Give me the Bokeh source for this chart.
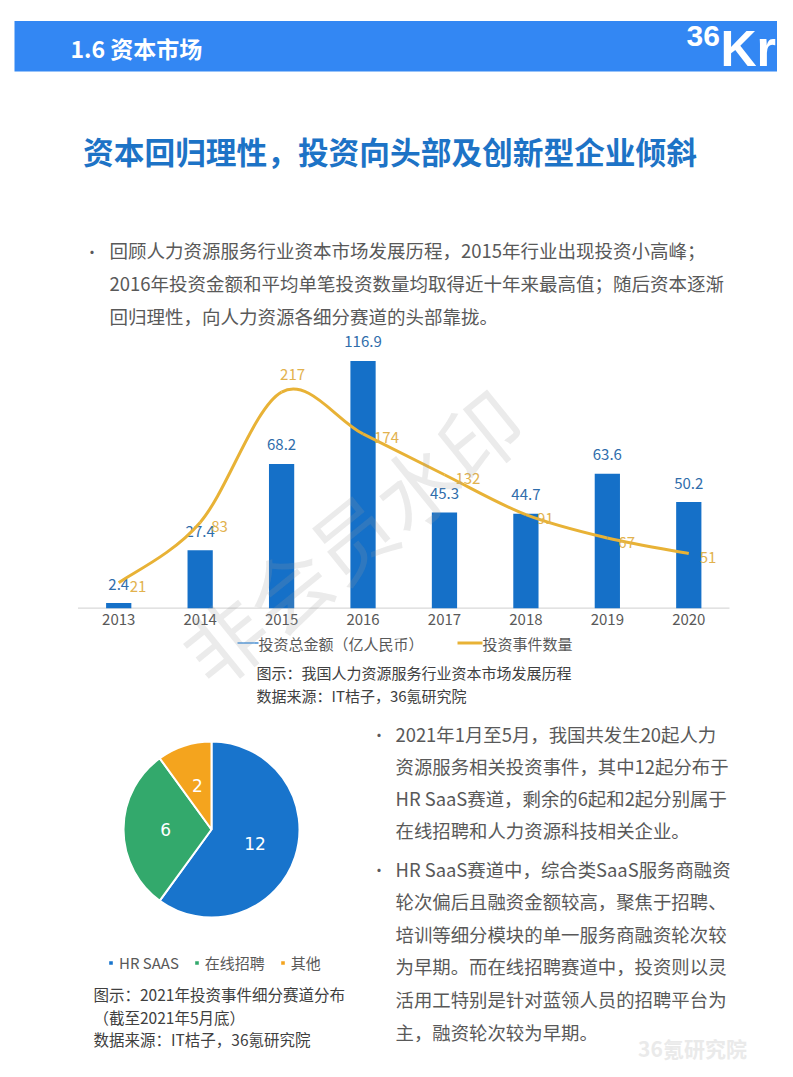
import numpy as np
from bokeh.plotting import figure
from bokeh.models import Range1d, Legend, LegendItem, ColumnDataSource
from bokeh.core.properties import value
from bokeh.embed import file_html
from bokeh.resources import INLINE

# ---------------- data ----------------
years = ["2013", "2014", "2015", "2016", "2017", "2018", "2019", "2020"]
amount = [2.4, 27.4, 68.2, 116.9, 45.3, 44.7, 63.6, 50.2]      # 投资总金额（亿人民币）
events = [21, 83, 217, 174, 132, 91, 67, 51]                    # 投资事件数量
series_names = ["投资总金额（亿人民币）", "投资事件数量"]

pie_labels = ["HR SAAS", "在线招聘", "其他"]
pie_values = [12, 6, 2]

header = "1.6 资本市场"
title = "资本回归理性，投资向头部及创新型企业倾斜"
intro_lines = [
    "回顾人力资源服务行业资本市场发展历程，2015年行业出现投资小高峰；",
    "2016年投资金额和平均单笔投资数量均取得近十年来最高值；随后资本逐渐",
    "回归理性，向人力资源各细分赛道的头部靠拢。",
]
bar_caption = ["图示：我国人力资源服务行业资本市场发展历程", "数据来源：IT桔子，36氪研究院"]
pie_caption = ["图示：2021年投资事件细分赛道分布", "（截至2021年5月底）", "数据来源：IT桔子，36氪研究院"]
para1 = [
    "2021年1月至5月，我国共发生20起人力",
    "资源服务相关投资事件，其中12起分布于",
    "HR SaaS赛道，剩余的6起和2起分别属于",
    "在线招聘和人力资源科技相关企业。",
]
para2 = [
    "HR SaaS赛道中，综合类SaaS服务商融资",
    "轮次偏后且融资金额较高，聚焦于招聘、",
    "培训等细分模块的单一服务商融资轮次较",
    "为早期。而在线招聘赛道中，投资则以灵",
    "活用工特别是针对蓝领人员的招聘平台为",
    "主，融资轮次较为早期。",
]
watermark = "非会员水印"

# ---------------- styles ----------------
CJK = value("Noto Sans CJK SC")
BAND = "#3387F3"
TITLE_BLUE = "#1D73C6"
BAR_BLUE = "#1570C8"
GOLD = "#E8B236"
GOLD_TXT = "#E2B24E"
BAR_TXT = "#2F6DAB"
GRAY = "#595959"
DARK = "#404040"
PIE_COLORS = ["#1874CC", "#33A96C", "#F4A41E"]

W, H = 777, 1061
X0, Y0 = 0, 0                     # page coordinate of the canvas' top-left corner
PB = Y0 + H                       # page y of the canvas bottom

# one page-sized canvas; main ranges are page pixels (y downwards)
p = figure(width=W, height=H, x_range=Range1d(X0, X0 + W), y_range=Range1d(PB, Y0),
           toolbar_location=None, tools="", output_backend="svg", min_border=0,
           x_axis_location=None, y_axis_location=None, outline_line_color=None)
p.grid.visible = False


def txt(x, y, s, size, color, bold=False, align="left", font=CJK, baseline="middle"):
    p.text(x=[x], y=[y], text=[s], text_font=font, text_font_size=f"{size}px",
           text_color=color, text_align=align, text_baseline=baseline,
           text_font_style="bold" if bold else "normal")


# ---------------- header / title / intro ----------------
p.quad(left=14, right=777, top=20.5, bottom=71, fill_color=BAND, line_color=None)
txt(70, 47, header, 23, "white", bold=True)
txt(686, 35, "36", 30, "white", bold=True, font=value("Liberation Sans"))
txt(720, 48, "Kr", 50, "white", bold=True, font=value("Liberation Sans"))
txt(389.5, 150, title, 30.7, TITLE_BLUE, bold=True, align="center")
txt(84, 251, "•", 15, GRAY)
for i, line in enumerate(intro_lines):
    txt(109, 249 + i * 33, line, 18.5, GRAY)

# ---------------- bar + line chart ----------------
# bar-chart scales: category band i spans [i, i+1], bands laid out on page x 77.5..729,
# amounts zero on page y 607.7 (2.115 px/unit), events zero on page y 602.7 (0.973 px/unit)
band_px = (729 - 77.5) / len(years)
bx0 = -(77.5 - X0) / band_px
amt_px, amt_zero = 2.115, 607.7
ev_px, ev_zero = 0.973, 602.7
p.extra_x_ranges = {"bx": Range1d(bx0, bx0 + W / band_px),
                    "px": Range1d(X0 - 211, X0 - 211 + W)}
p.extra_y_ranges = {"amt": Range1d(-(PB - amt_zero) / amt_px, -(PB - amt_zero) / amt_px + H / amt_px),
                    "ev": Range1d(-(PB - ev_zero) / ev_px, -(PB - ev_zero) / ev_px + H / ev_px),
                    "py": Range1d(-(PB - 829), -(PB - 829) + H)}

n = len(years)
xi = np.arange(n) + 0.5
# axis line + category labels
p.segment(x0=[0], y0=[0], x1=[n], y1=[0], x_range_name="bx", y_range_name="amt",
          line_color="#D9D9D9", line_width=1.2)
p.text(x=xi, y=np.zeros(n), text=years, x_range_name="bx", y_range_name="amt",
       text_font=CJK, text_font_size="15px", text_color=GRAY, text_align="center",
       text_baseline="middle", y_offset=11)

r_bar = p.vbar(x=xi, top=amount, width=0.31, x_range_name="bx", y_range_name="amt",
               fill_color=BAR_BLUE, line_color=None)
p.text(x=xi, y=amount, text=[f"{v:.1f}" for v in amount], x_range_name="bx",
       y_range_name="amt", text_font=CJK, text_font_size="15px", text_color=BAR_TXT,
       text_align="center", text_baseline="middle", y_offset=-19)

# smoothed (Excel-like) line: cubic Bezier segments through the data points
ev = np.array(events, dtype=float)
X = np.concatenate([[xi[0]], xi, [xi[-1]]])
Y = np.concatenate([[ev[0]], ev, [ev[-1]]])
k = np.arange(n - 1)
cx0 = X[k + 1] + (X[k + 2] - X[k]) / 6
cy0 = Y[k + 1] + (Y[k + 2] - Y[k]) / 6
cx1 = X[k + 2] - (X[k + 3] - X[k + 1]) / 6
cy1 = Y[k + 2] - (Y[k + 3] - Y[k + 1]) / 6
r_line = p.bezier(x0=xi[:-1], y0=ev[:-1], x1=xi[1:], y1=ev[1:], cx0=cx0, cy0=cy0,
                  cx1=cx1, cy1=cy1, x_range_name="bx", y_range_name="ev",
                  line_color=GOLD, line_width=3)

imax = int(np.argmax(events))
rest = [i for i in range(n) if i != imax]
p.text(x=xi[rest], y=ev[rest], text=[str(events[i]) for i in rest], x_range_name="bx",
       y_range_name="ev", text_font=CJK, text_font_size="15px", text_color=GOLD_TXT,
       text_align="left", text_baseline="middle", x_offset=11, y_offset=4)
p.text(x=[xi[imax]], y=[ev[imax]], text=[str(events[imax])], x_range_name="bx",
       y_range_name="ev", text_font=CJK, text_font_size="15px", text_color=GOLD_TXT,
       text_align="center", text_baseline="middle", x_offset=11, y_offset=-18)

# faint watermark across the chart
p.text(x=[350], y=[535], text=[watermark], text_font=CJK, text_font_size="82px",
       text_color="#9A9A9A", text_alpha=0.2, text_align="center",
       text_baseline="middle", angle=39, angle_units="deg")

# legend of the bar/line chart
p.segment(x0=[237, 457], y0=[642.5, 642.5], x1=[258, 482], y1=[642.5, 642.5],
          line_color=[BAR_BLUE, GOLD], line_width=[1.2, 3])
txt(258, 642.5, series_names[0], 15, GRAY)
txt(482, 642.5, series_names[1], 15, GRAY)

txt(256, 672, bar_caption[0], 15, DARK)
txt(256, 695, bar_caption[1], 15, DARK)

# ---------------- pie ----------------
tot = float(sum(pie_values))
cum = np.cumsum([0] + pie_values)
start = np.pi / 2 - 2 * np.pi * cum[:-1] / tot
end = np.pi / 2 - 2 * np.pi * cum[1:] / tot
mid = (start + end) / 2
R = 88
src = ColumnDataSource(dict(start=start, end=end, color=PIE_COLORS, name=pie_labels,
                            val=[str(v) for v in pie_values],
                            lx=0.52 * R * np.cos(mid), ly=0.52 * R * np.sin(mid)))
r_pie = p.wedge(x=0, y=0, radius=R, start_angle="start", end_angle="end",
                direction="clock", fill_color="color", line_color="white",
                line_width=2, source=src, x_range_name="px", y_range_name="py")
p.text(x="lx", y="ly", text="val", source=src, x_range_name="px", y_range_name="py",
       text_font=value("DejaVu Sans"), text_font_size="17px", text_color="white",
       text_align="center", text_baseline="middle")
pleg = Legend(items=[LegendItem(label=pie_labels[i], renderers=[r_pie], index=i)
                     for i in range(len(pie_labels))],
              orientation="horizontal", location=(107 - X0, PB - 973),
              label_text_font="Noto Sans CJK SC", label_text_font_size="15px",
              label_text_color=GRAY, glyph_width=7, glyph_height=7, label_height=18,
              label_standoff=5, spacing=14, padding=0, margin=0,
              border_line_color=None, background_fill_alpha=0)
p.add_layout(pleg)
for i, line in enumerate(pie_caption):
    txt(93, 993.5 + i * 22.5, line, 15.5, DARK)

# ---------------- right text ----------------
txt(371, 734, "•", 15, GRAY)
for i, line in enumerate(para1):
    txt(395, 733 + i * 32.3, line, 18.4, GRAY)
txt(371, 869, "•", 15, GRAY)
for i, line in enumerate(para2):
    txt(395, 868 + i * 32.6, line, 18.4, GRAY)
txt(692, 1047, "36氪研究院", 21, "#EAEAEA", bold=True, align="center")

open("out.html", "w").write(file_html(p, INLINE))
